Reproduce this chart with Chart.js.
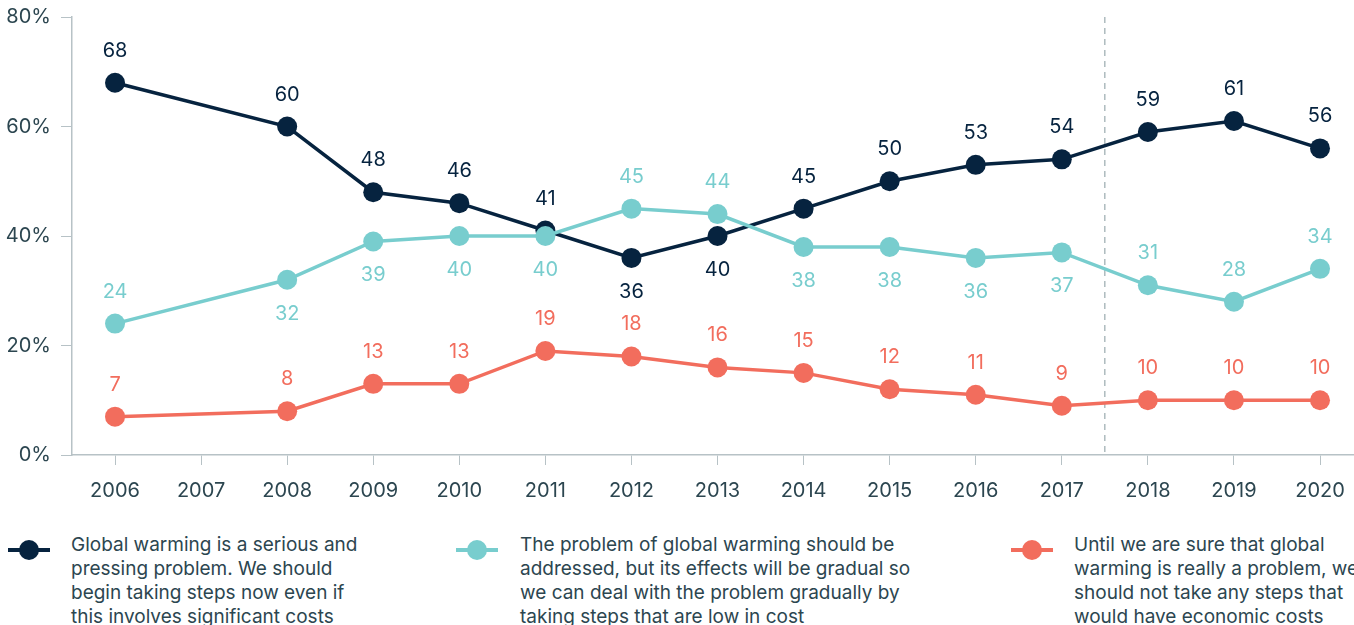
<!DOCTYPE html>
<html>
<head>
<meta charset="utf-8">
<script src="https://cdn.jsdelivr.net/npm/chart.js@4/dist/chart.umd.min.js"></script>
<style>
  html, body { margin: 0; padding: 0; background: #fff; overflow: hidden; }
  body { width: 1354px; height: 625px; position: relative; font-family: Inter, Lato, sans-serif; }
  #wrap { position: absolute; left: 0; top: 0; width: 1354px; height: 520px; }
  .leg { position: absolute; top: 533px; font-size: 19px; line-height: 24px; color: #2c4650; white-space: nowrap; }
  .mark { position: absolute; top: 540px; width: 42px; height: 20px; }
  .mark .ln { position: absolute; left: 0; top: 8px; width: 42px; height: 4px; }
  .mark .dot { position: absolute; left: 11px; top: 0; width: 20px; height: 20px; border-radius: 50%; }
</style>
</head>
<body>
<div id="wrap"><canvas id="trendChart" width="1354" height="520"></canvas></div>

<div class="mark" style="left:8px"><div class="ln" style="background:#06233f"></div><div class="dot" style="background:#06233f"></div></div>
<div class="leg" style="left:71px">Global warming is a serious and<br>pressing problem. We should<br>begin taking steps now even if<br>this involves significant costs</div>

<div class="mark" style="left:456px"><div class="ln" style="background:#78cdce"></div><div class="dot" style="background:#78cdce"></div></div>
<div class="leg" style="left:520px">The problem of global warming should be<br>addressed, but its effects will be gradual so<br>we can deal with the problem gradually by<br>taking steps that are low in cost</div>

<div class="mark" style="left:1011px"><div class="ln" style="background:#f26d5d"></div><div class="dot" style="background:#f26d5d"></div></div>
<div class="leg" style="left:1074px">Until we are sure that global<br>warming is really a problem, we<br>should not take any steps that<br>would have economic costs</div>

<script>
const years = [2006, 2008, 2009, 2010, 2011, 2012, 2013, 2014, 2015, 2016, 2017, 2018, 2019, 2020];
const tickYears = [2006, 2007, 2008, 2009, 2010, 2011, 2012, 2013, 2014, 2015, 2016, 2017, 2018, 2019, 2020];
const seriousValues = [68, 60, 48, 46, 41, 36, 40, 45, 50, 53, 54, 59, 61, 56];
const gradualValues = [24, 32, 39, 40, 40, 45, 44, 38, 38, 36, 37, 31, 28, 34];
const noStepsValues = [7, 8, 13, 13, 19, 18, 16, 15, 12, 11, 9, 10, 10, 10];
const yTicks = [0, 20, 40, 60, 80];

// which side of the point each value label sits on
const seriousSide = ['up','up','up','up','up','down','down','up','up','up','up','up','up','up'];
const gradualSide = ['up','down','down','down','down','up','up','down','down','down','down','up','up','up'];
const noStepsSide = years.map(() => 'up');

const navy = '#06233f';
const teal = '#78cdce';
const coral = '#f26d5d';
const axisGrey = '#b7c2c6';
const textCol = '#2c4650';

function toPoints(vals) {
  return vals.map((v, i) => ({ x: years[i], y: v }));
}

const valueLabels = {
  id: 'valueLabels',
  afterDatasetsDraw(chart) {
    const ctx = chart.ctx;
    ctx.save();
    ctx.font = '20px Inter, Lato, sans-serif';
    ctx.textAlign = 'center';
    ctx.textBaseline = 'middle';
    chart.data.datasets.forEach((ds, di) => {
      const meta = chart.getDatasetMeta(di);
      ctx.fillStyle = ds.borderColor;
      meta.data.forEach((pt, i) => {
        const side = ds.sides[i];
        const y = side === 'up' ? pt.y - 32 : pt.y + 34;
        ctx.fillText(String(ds.data[i].y), pt.x, y);
      });
    });
    ctx.restore();
  }
};

const splitLine = {
  id: 'splitLine',
  beforeDatasetsDraw(chart) {
    const ctx = chart.ctx;
    const x = chart.scales.x.getPixelForValue(2017.5);
    const area = chart.chartArea;
    ctx.save();
    ctx.strokeStyle = '#9aaaae';
    ctx.lineWidth = 1.2;
    ctx.setLineDash([6, 5]);
    ctx.beginPath();
    ctx.moveTo(x, area.top);
    ctx.lineTo(x, area.bottom);
    ctx.stroke();
    ctx.restore();
  }
};

function lineSet(label, vals, color, sides, order) {
  return {
    label: label,
    data: toPoints(vals),
    sides: sides,
    borderColor: color,
    backgroundColor: color,
    borderWidth: 3.5,
    pointRadius: 10,
    pointHoverRadius: 10,
    pointBorderWidth: 0,
    tension: 0,
    clip: false,
    order: order
  };
}

const trendChart = new Chart(document.getElementById('trendChart'), {
  type: 'line',
  data: {
    datasets: [
      lineSet('Serious', seriousValues, navy, seriousSide, 1),
      lineSet('Gradual', gradualValues, teal, gradualSide, 0),
      lineSet('No steps', noStepsValues, coral, noStepsSide, 2)
    ]
  },
  options: {
    responsive: false,
    animation: false,
    layout: { autoPadding: false, padding: { top: 17, right: 0, left: 0, bottom: 0 } },
    plugins: {
      legend: { display: false },
      tooltip: { enabled: false }
    },
    scales: {
      x: {
        type: 'linear',
        bounds: 'data',
        min: 2005.5,
        max: 2020.395,
        afterBuildTicks: (scale) => { scale.ticks = tickYears.map(v => ({ value: v })); },
        afterFit: (scale) => { scale.height = 65; scale.paddingRight = 0; scale.paddingLeft = 0; },
        grid: { drawOnChartArea: false, drawTicks: true, tickLength: 10, color: axisGrey },
        border: { color: axisGrey, width: 1.5 },
        ticks: {
          color: textCol,
          font: { family: 'Inter, Lato, sans-serif', size: 20 },
          padding: 14,
          maxRotation: 0,
          autoSkip: false,
          includeBounds: false,
          callback: (v) => String(v)
        }
      },
      y: {
        bounds: 'data',
        min: 0,
        max: 80,
        afterBuildTicks: (scale) => { scale.ticks = yTicks.map(v => ({ value: v })); },
        afterFit: (scale) => { scale.width = 72; scale.paddingTop = 0; scale.paddingBottom = 0; },
        grid: { drawOnChartArea: false, drawTicks: true, tickLength: 11, color: axisGrey },
        border: { color: axisGrey, width: 1.5 },
        ticks: {
          color: textCol,
          font: { family: 'Inter, Lato, sans-serif', size: 20 },
          padding: 10,
          callback: (v) => v + '%'
        }
      }
    }
  },
  plugins: [splitLine, valueLabels]
});
</script>
</body>
</html>
